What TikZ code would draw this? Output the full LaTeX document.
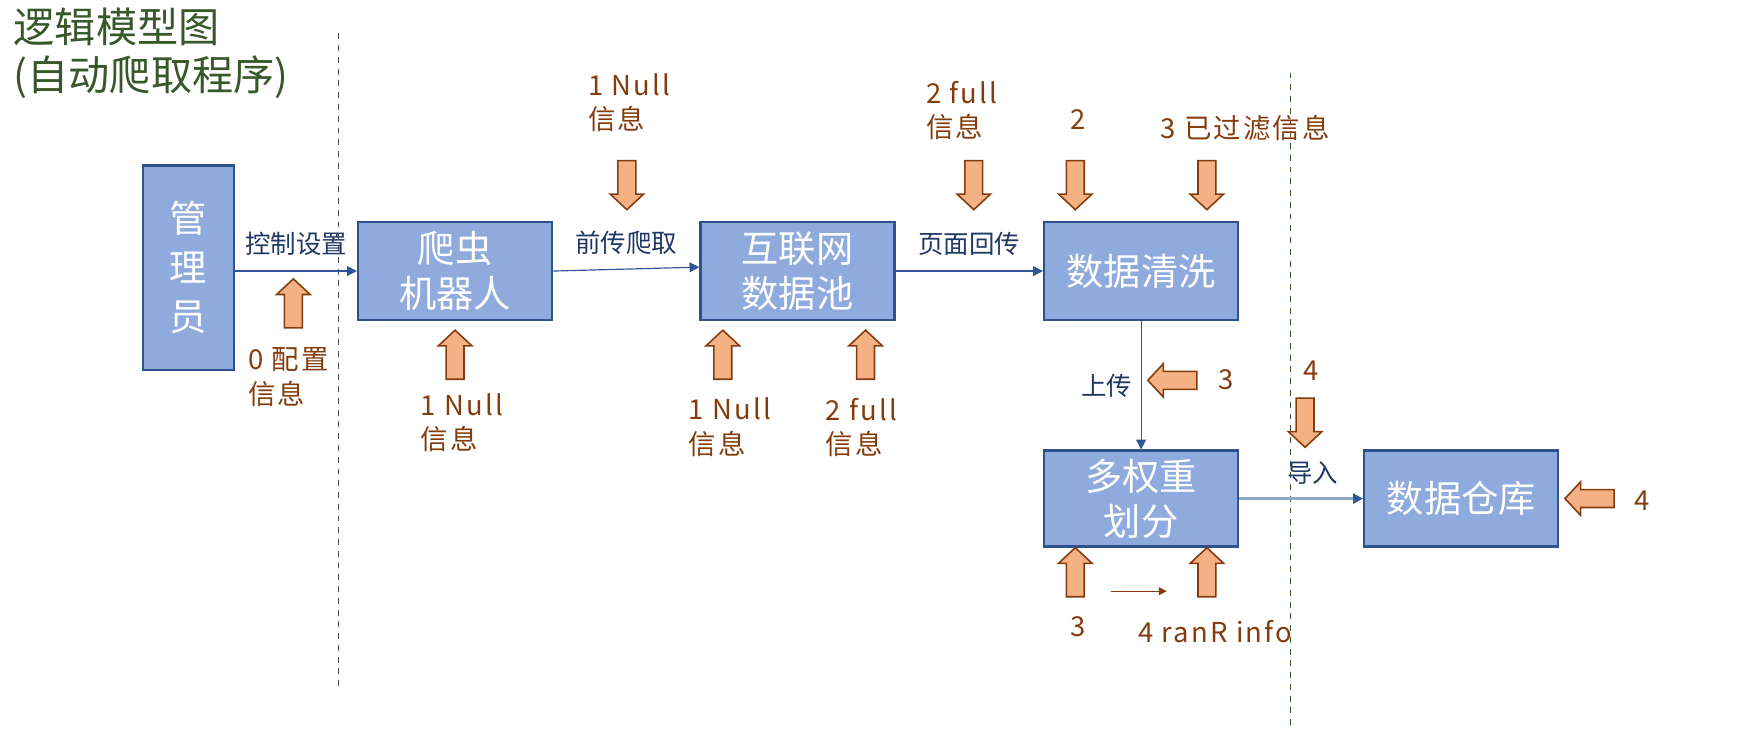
\documentclass[tikz,border=0pt]{standalone}
\usepackage{fontspec}
\setmainfont{Noto Sans CJK SC}
\newfontfamily\spacedfont[LetterSpace=8]{Noto Sans CJK SC}
\usetikzlibrary{positioning, arrows.meta}
\definecolor{boxfill}{HTML}{8FAADC}
\definecolor{boxline}{HTML}{2F528F}
\definecolor{padfill}{HTML}{F4B183}
\definecolor{padline}{HTML}{843C0C}
\definecolor{wireblue}{HTML}{2F5597}
\definecolor{labelblue}{HTML}{203864}
\definecolor{importgray}{HTML}{8EA9C6}
\definecolor{titlegreen}{HTML}{38572A}
\tikzset{
  stage/.style={draw=boxline, line width=1.2pt, fill=boxfill, text=white, align=center,
    minimum width=3.48cm, minimum height=1.76cm, inner sep=0pt,
    font=\fontsize{19}{23}\selectfont},
  wire/.style={-{Triangle[length=5pt, width=5pt]}, wireblue, semithick},
  importwire/.style={-{Triangle[length=5pt, width=5pt, color=wireblue]}, importgray, line width=1.6pt},
  wirelabel/.style={text=labelblue, font=\fontsize{13}{15}\selectfont},
  infolabel/.style={text=padline, align=left, anchor=west, inner sep=0pt,
    font=\spacedfont\fontsize{14}{17.5}\selectfont},
  fatarrow/.style={draw=padline, fill=padfill, line width=0.8pt},
  pics/padarrow/.style={code={
    \draw[fatarrow] (-22,-8) -- (8,-8) -- (8,-15) -- (22,0) -- (8,15) -- (8,8) -- (-22,8) -- cycle;}}
}

\begin{document}
\begin{tikzpicture}[x=0.02cm, y=-0.02cm]
        \useasboundingbox (0,0) rectangle (1568,655);
        \node[anchor=west, align=left, inner sep=0pt, text=titlegreen,
              font=\fontsize{21}{24.4}\selectfont] (title) at (12,48) {逻辑模型图\\(自动爬取程序)};
        \draw[dashed, gray!60!black] (303,30) -- (303,615);
        \draw[dashed, titlegreen] (1157,65) -- (1157,655);
        % boxes
        \node[stage, minimum width=1.64cm, minimum height=3.66cm,
              font=\fontsize{19}{25}\selectfont] (admin) at (169,240) {管\\理\\员};
        \node[stage] (crawler) at (408,243) {爬虫\\机器人};
        \node[stage] (pool)    at (715,243) {互联网\\数据池};
        \node[stage] (clean)   at (1023,243) {数据清洗};
        \node[stage, minimum height=1.72cm] (weight) at (1023,447) {多权重\\划分};
        \node[stage, minimum height=1.72cm] (store)  at (1310,447) {数据仓库};
        % connectors
        \draw[wire] (admin.east |- crawler.west) -- node[wirelabel, above=4pt] (ctrl) {控制设置} (crawler.west);
        \draw[wire] (crawler.east) -- node[wirelabel, above=4pt] (fwd) {前传爬取} ([yshift=2pt]pool.west);
        \draw[wire] (pool.east) -- node[wirelabel, above=4pt] (back) {页面回传} (clean.west);
        \draw[wire] (clean.south) -- node[wirelabel, left=1pt] (upl) {上传} (weight.north);
        \draw[importwire] (weight.east) -- node[wirelabel, above=3pt, xshift=6pt] (imp) {导入} (store.west);
        % block arrows
        \pic[rotate=90]  at (263,272) {padarrow};
        \pic[rotate=90]  at (408,318) {padarrow};
        \pic[rotate=-90] at (562,166) {padarrow};
        \pic[rotate=90]  at (648,318) {padarrow};
        \pic[rotate=90]  at (776,318) {padarrow};
        \pic[rotate=-90] at (873,166) {padarrow};
        \pic[rotate=-90] at (964,166) {padarrow};
        \pic[rotate=-90] at (1082,166) {padarrow};
        \pic[rotate=180] at (1051,341) {padarrow};
        \pic[rotate=-90] at (1170,379) {padarrow};
        \pic[rotate=180] at (1425,447) {padarrow};
        \pic[rotate=90]  at (964,513) {padarrow};
        \pic[rotate=90]  at (1082,513) {padarrow};
        \coordinate (stepA) at (996,530);
        \coordinate (stepB) at (1046,530);
        \draw[-{Triangle[length=4pt, width=4pt]}, padline, semithick] (stepA) -- (stepB);
        % info labels
        \node[infolabel] (cfg)      at (222,338) {0 配置\\信息};
        \node[infolabel] (nullA)    at (377,379) {1 Null\\信息};
        \node[infolabel] (nullB)    at (527,92)  {1 Null\\信息};
        \node[infolabel] (nullC)    at (617,383) {1 Null\\信息};
        \node[infolabel] (fullA)    at (740,383) {2 full\\信息};
        \node[infolabel] (fullB)    at (830,99)  {2 full\\信息};
        \node[infolabel] (two)      at (959,107) {2};
        \node[infolabel] (filtered) at (1040,115) {3 已过滤信息};
        \node[infolabel] (three)    at (1092,340) {3};
        \node[infolabel] (four)     at (1168,332) {4};
        \node[infolabel] (fourb)    at (1465,449) {4};
        \node[infolabel] (threeb)   at (959,562) {3};
        \node[infolabel] (rank)     at (1020,566) {4 ranR info};
      \end{tikzpicture}
\end{document}
